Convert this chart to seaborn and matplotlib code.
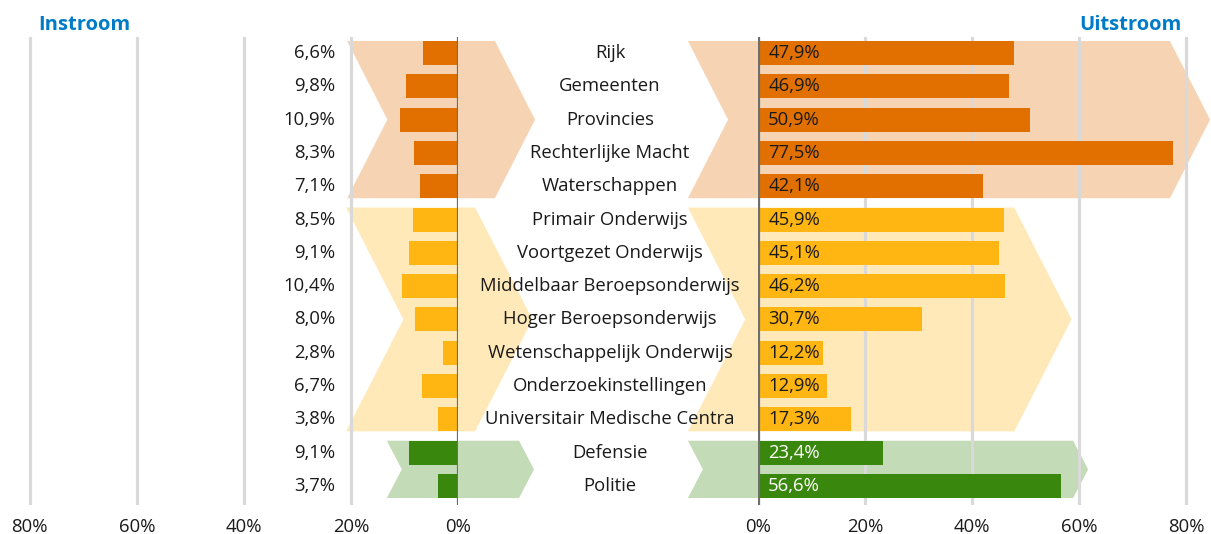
import numpy as np
import pandas as pd
import matplotlib
matplotlib.use("Agg")
import matplotlib.pyplot as plt
import matplotlib.transforms as mtransforms
from matplotlib.patches import Polygon
import seaborn as sns

sectoren = ['Rijk', 'Gemeenten', 'Provincies', 'Rechterlijke Macht', 'Waterschappen',
            'Primair Onderwijs', 'Voortgezet Onderwijs', 'Middelbaar Beroepsonderwijs',
            'Hoger Beroepsonderwijs', 'Wetenschappelijk Onderwijs', 'Onderzoekinstellingen',
            'Universitair Medische Centra', 'Defensie', 'Politie']
instroom = [6.6, 9.8, 10.9, 8.3, 7.1, 8.5, 9.1, 10.4, 8.0, 2.8, 6.7, 3.8, 9.1, 3.7]
uitstroom = [47.9, 46.9, 50.9, 77.5, 42.1, 45.9, 45.1, 46.2, 30.7, 12.2, 12.9, 17.3, 23.4, 56.6]
groep = ['overheid'] * 5 + ['onderwijs'] * 7 + ['veiligheid'] * 2
ticks_links = [80, 60, 40, 20, 0]
ticks_rechts = [0, 20, 40, 60, 80]

df = pd.DataFrame({'sector': sectoren, 'instroom': instroom,
                   'uitstroom': uitstroom, 'groep': groep})

donker = {'overheid': '#E17000', 'onderwijs': '#FFB612', 'veiligheid': '#39870C'}
licht = {'overheid': '#F6D4B3', 'onderwijs': '#FFE9B8', 'veiligheid': '#C4DBB7'}
tekstkleur = {'overheid': '#1a1a1a', 'onderwijs': '#1a1a1a', 'veiligheid': 'white'}

# background chevrons: (group, x_left_edge, x_right_edge, depth) in % units
pijlen_links = [('overheid', 20.7, -6.9, 7.5), ('onderwijs', 20.9, -3.2, 10.7),
                ('veiligheid', 13.3, -11.4, 2.8)]
pijlen_rechts = [('overheid', -13.1, 77.0, 7.5), ('onderwijs', -13.1, 47.9, 10.7),
                 ('veiligheid', -13.1, 58.9, 2.8)]

sns.set_theme(style="white")
plt.rcParams['font.family'] = ['Open Sans', 'DejaVu Sans']

W, H = 1211, 534
fig = plt.figure(figsize=(W / 100, H / 100), dpi=100)
px = 5.35  # pixels per percent
y_top, y_bot = 37, 505
ax_l = fig.add_axes([10 / W, (H - y_bot) / H, (458 - 10) / W, (y_bot - y_top) / H])
ax_r = fig.add_axes([758 / W, (H - y_bot) / H, (W - 758) / W, (y_bot - y_top) / H])

fs = 13.3
bar_h = 0.72
for ax, col in [(ax_l, 'instroom'), (ax_r, 'uitstroom')]:
    sns.barplot(data=df, x=col, y='sector', hue='groep', palette=donker,
                order=sectoren, dodge=False, legend=False, width=bar_h,
                saturation=1, ax=ax, zorder=3, edgecolor='none', linewidth=0)
    ax.set_ylim(13.57, -0.48)
    ax.set_ylabel('')
    ax.set_xlabel('')
    ax.set_yticks([])
    for s in ax.spines.values():
        s.set_visible(False)
    ax.grid(axis='x', color='#D9D9D9', lw=2.3, zorder=1)
    ax.set_axisbelow(False)
    ax.axvline(0, color='#6E6E6E', lw=2.3, zorder=4)
    ax.tick_params(axis='x', length=0, pad=9, colors='#1a1a1a')
    ax.patch.set_alpha(0)

ax_l.set_xlim(83.7, 0)
ax_r.set_xlim(0, (W - 758) / px)
ax_l.set_xticks(ticks_links, [f'{t}%' for t in ticks_links])
ax_r.set_xticks(ticks_rechts, [f'{t}%' for t in ticks_rechts])
for lbl in ax_l.get_xticklabels() + ax_r.get_xticklabels():
    lbl.set_fontsize(fs)

# row ranges per group
rijen = {g: [i for i, gg in enumerate(groep) if gg == g] for g in donker}

for ax, pijlen, richting in [(ax_l, pijlen_links, -1), (ax_r, pijlen_rechts, 1)]:
    for g, xa, xb, d in pijlen:
        r = rijen[g]
        y0, y1 = r[0] - bar_h / 2, r[-1] + bar_h / 2
        ym = (y0 + y1) / 2
        pts = [(xa, y0), (xb, y0), (xb + richting * d, ym), (xb, y1), (xa, y1),
               (xa + richting * d, ym)]
        ax.add_patch(Polygon(pts, closed=True, facecolor=licht[g], edgecolor='none',
                             zorder=0, clip_on=False))

# value labels
for i, (a, b, g) in enumerate(zip(instroom, uitstroom, groep)):
    fmt_a = f'{a:.1f}'.replace('.', ',') + '%'
    fmt_b = f'{b:.1f}'.replace('.', ',') + '%'
    ax_l.text(23, i, fmt_a, ha='right', va='center', fontsize=fs, color='#1a1a1a', zorder=5)
    ax_r.text(1.9, i, fmt_b, ha='left', va='center', fontsize=fs,
              color=tekstkleur[g], zorder=5)

# category labels in the middle
trans = mtransforms.blended_transform_factory(fig.transFigure, ax_r.transData)
for i, s in enumerate(sectoren):
    ax_r.text(610 / W, i, s, transform=trans, ha='center', va='center',
              fontsize=fs, color='#1a1a1a', zorder=5, clip_on=False)

fig.text(38 / W, 1 - 25 / H, 'Instroom', ha='left', va='center', fontsize=14.5,
         fontweight='bold', color='#007BC7')
fig.text(1182 / W, 1 - 25 / H, 'Uitstroom', ha='right', va='center', fontsize=14.5,
         fontweight='bold', color='#007BC7')

fig.savefig('out.png', dpi=100)
